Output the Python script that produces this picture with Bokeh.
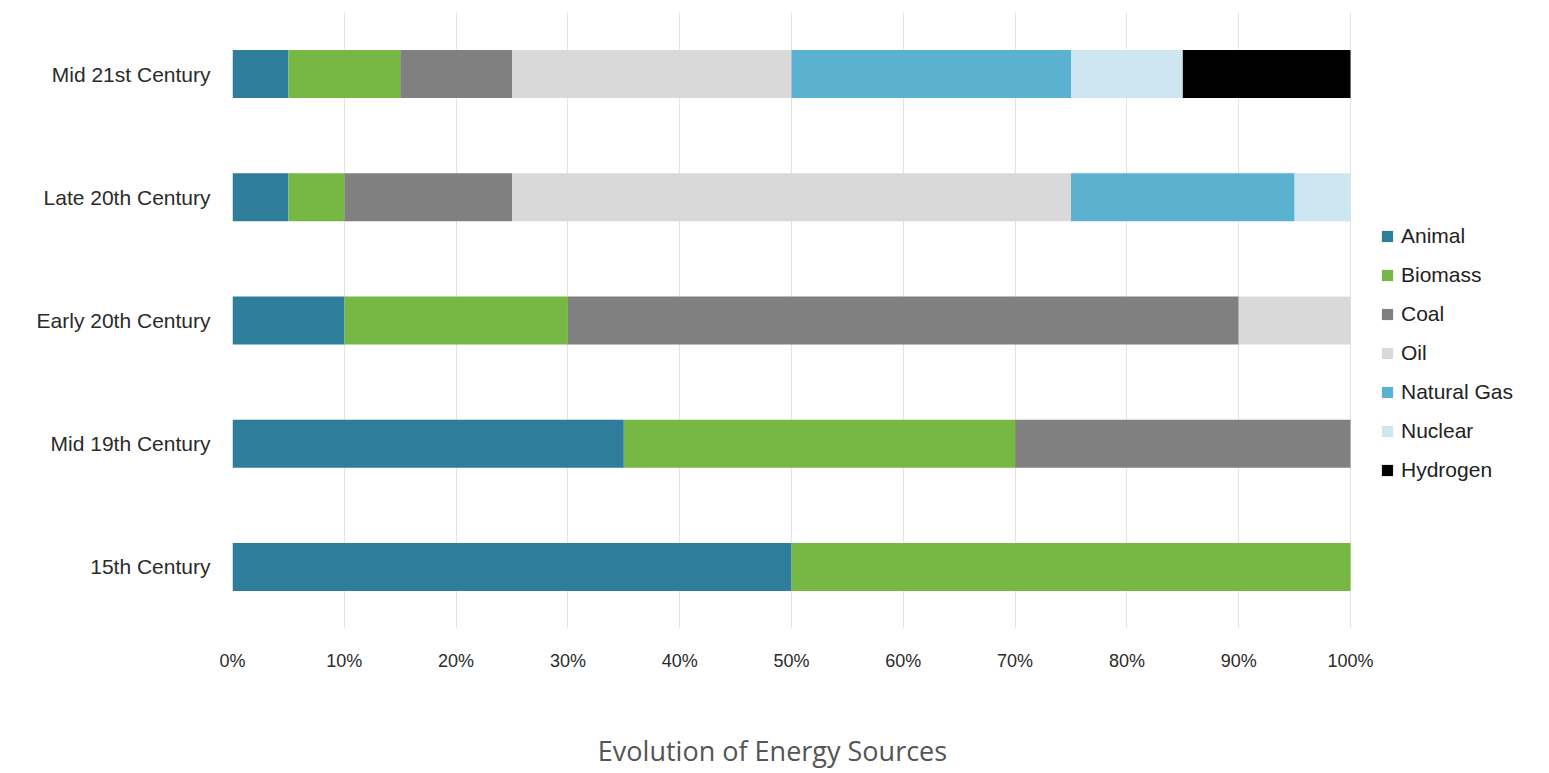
from bokeh.plotting import figure
from bokeh.layouts import column
from bokeh.models import (ColumnDataSource, FactorRange, Range1d, FixedTicker,
                          PrintfTickFormatter, Legend, LegendItem, Label)
from bokeh.embed import file_html
from bokeh.resources import INLINE

# Share of each energy source by era (percent)
eras = ["15th Century", "Mid 19th Century", "Early 20th Century",
        "Late 20th Century", "Mid 21st Century"]
animal = [50, 35, 10, 5, 5]
biomass = [50, 35, 20, 5, 10]
coal = [0, 30, 60, 15, 10]
oil = [0, 0, 10, 50, 25]
natural_gas = [0, 0, 0, 20, 25]
nuclear = [0, 0, 0, 5, 10]
hydrogen = [0, 0, 0, 0, 15]

sources = ["Animal", "Biomass", "Coal", "Oil", "Natural Gas", "Nuclear", "Hydrogen"]
colors = ["#2E7D9A", "#76B843", "#808080", "#D9D9D9", "#5BB1D0", "#CDE6EF", "#000000"]
ticks = list(range(0, 101, 10))

source = ColumnDataSource(dict(
    era=eras, Animal=animal, Biomass=biomass, Coal=coal, Oil=oil,
    **{"Natural Gas": natural_gas}, Nuclear=nuclear, Hydrogen=hydrogen,
))

# layout in pixels: the 0-100% span is 1118 px wide, the frame keeps going
# to the right edge so the legend can sit inside it
LEFT, SPAN, FRAME_W, FRAME_H = 232, 1118, 1317, 616

p = figure(frame_width=FRAME_W, frame_height=FRAME_H,
           output_backend="svg", toolbar_location=None,
           y_range=FactorRange(*eras),
           x_range=Range1d(0, 100 * FRAME_W / SPAN),
           min_border_left=LEFT, min_border_right=0,
           min_border_top=12, min_border_bottom=55)

renderers = p.hbar_stack(sources, y="era", height=0.39, color=colors,
                         line_color=None, source=source)

p.outline_line_color = None
p.background_fill_color = "white"
p.border_fill_color = "white"

p.ygrid.grid_line_color = None
p.xgrid.grid_line_color = "#E3E3E3"
p.xgrid.grid_line_width = 1
p.xaxis.ticker = FixedTicker(ticks=ticks)
p.xaxis.formatter = PrintfTickFormatter(format="%d%%")

for ax in (p.xaxis, p.yaxis):
    ax.axis_line_color = None
    ax.major_tick_line_color = None
    ax.minor_tick_line_color = None
    ax.major_label_text_font = "Liberation Sans"
    ax.major_label_text_color = "#2b2b2b"

p.yaxis.major_label_text_font_size = "21px"
p.yaxis.major_label_standoff = 16
p.xaxis.major_label_text_font_size = "18px"
p.xaxis.major_label_standoff = 16

legend = Legend(
    items=[LegendItem(label=s, renderers=[r]) for s, r in zip(sources, renderers)],
    location=(1148, 146), padding=0, margin=0, spacing=15,
    glyph_width=14, glyph_height=14, label_height=20, label_standoff=7,
    label_text_font="Liberation Sans", label_text_font_size="21px",
    label_text_color="#222222", border_line_color=None,
    background_fill_alpha=0,
)
p.add_layout(legend)

# caption strip underneath the chart; its frame lines up with the chart's,
# so the x range is expressed in page pixels
cap = figure(width=1549, height=90, output_backend="svg", toolbar_location=None,
             x_range=Range1d(LEFT, LEFT + FRAME_W), y_range=Range1d(0, 90),
             x_axis_type=None, y_axis_type=None,
             min_border=0)
cap.outline_line_color = None
cap.grid.visible = False
cap.add_layout(Label(x=772, y=23, text="Evolution of Energy Sources",
                     text_align="center", text_baseline="middle",
                     text_font="Open Sans", text_font_size="27px",
                     text_color="#555555"))

layout = column(p, cap, spacing=0)

open("out.html", "w").write(file_html(layout, INLINE))
